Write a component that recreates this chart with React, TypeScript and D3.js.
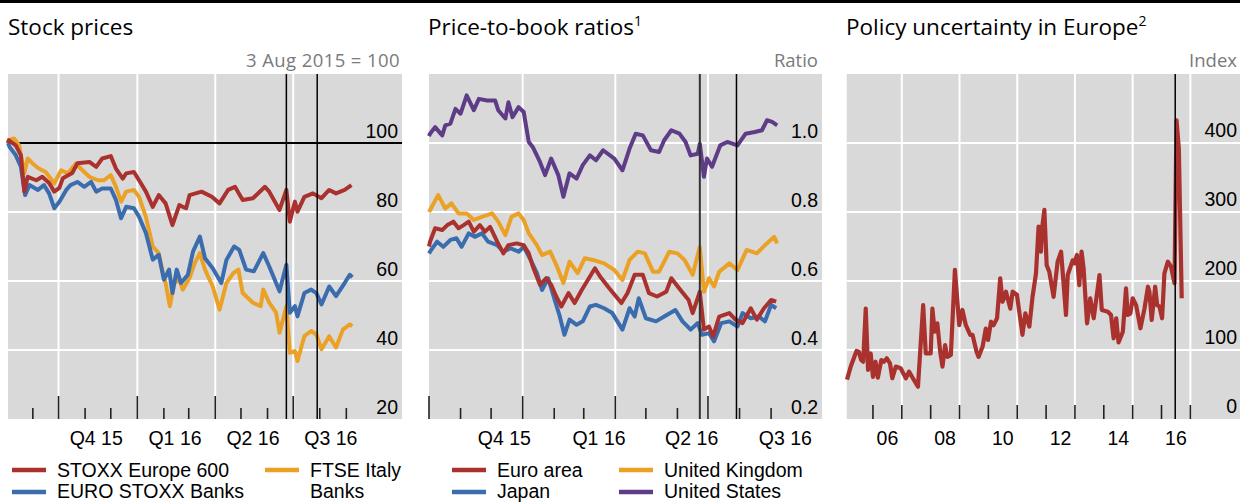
import React from 'react';
import * as d3 from 'd3';

// ---------------- DATA ----------------
// Panel 1: stock prices, [days since 3 Aug 2015, index 3 Aug 2015 = 100]
const stockBaseDate = '2015-08-03';
const stoxxEurope600: [number, number][] = [[0,100],[1,100.8],[9,99.3],[15,96.5],[19,85.9],[23,90.2],[33,89.2],[40,90.2],[48,88.4],[54,85.9],[60,87],[64,89.8],[75,91.3],[81,94.1],[95,94.5],[103,93.1],[110,95.5],[120,96.2],[126,92.6],[134,89.7],[138,91.2],[147,91.6],[153,89.2],[161,85.9],[169,81.5],[176,84.9],[184,82.5],[192,76.2],[200,82],[204,81.5],[208,81.1],[212,84.9],[226,85.9],[238,84.4],[247,82.5],[257,86.4],[265,87.3],[274,83.5],[286,84],[300,87.3],[305,85.9],[317,80.6],[325,86.4],[329,77.2],[335,83],[338,80.1],[346,84.4],[356,85.4],[366,84],[375,86.4],[383,85.4],[393,86.4],[401,87.8]];
const euroStoxxBanks: [number, number][] = [[0,100],[2,98.8],[9,96.5],[15,93.1],[20,84.9],[25,87.8],[35,86.4],[42,87.8],[48,85.4],[54,81.1],[60,83],[68,86.4],[73,87.8],[81,88.7],[89,87.3],[97,88.7],[103,85.9],[110,86.8],[120,86.8],[126,83.5],[132,78.2],[138,81.5],[147,81.1],[153,78.6],[161,73.9],[169,66.2],[176,67.6],[182,60.4],[188,63.3],[192,56.5],[197,63.3],[202,59.4],[210,61.8],[216,68.5],[224,72.9],[230,66.6],[239,63.7],[249,59.4],[255,66.1],[264,70],[270,69],[278,63.3],[287,62.8],[298,68.1],[305,64.2],[317,57],[325,64.7],[329,50.8],[335,52.7],[338,49.8],[346,56.5],[354,57.5],[360,56.5],[366,53.2],[375,58.4],[383,55.6],[393,59.4],[399,61.8],[402,61.1]];
const ftseItalyBanks: [number, number][] = [[0,100],[1,100.8],[7,101.3],[13,99.3],[19,91.2],[23,95.5],[29,94],[36,92.6],[44,91.6],[54,88.3],[62,92.1],[70,91.2],[79,94],[87,92.1],[95,90.2],[105,89.2],[112,89.2],[120,90.7],[126,87.3],[132,83],[138,85.9],[147,86.4],[153,84.4],[161,78.6],[169,70],[176,68.1],[180,63.3],[184,59.4],[189,52.7],[194,59.4],[200,60.4],[204,57.5],[212,60.9],[218,65.2],[224,68.1],[230,63.3],[239,58.4],[247,51.7],[255,59.4],[263,62.3],[269,63.3],[274,56.5],[286,53.7],[295,52.7],[298,57.5],[305,53.7],[313,50.8],[317,45],[325,52.7],[329,39.2],[335,39.7],[338,36.8],[346,44],[354,45.5],[360,44.5],[366,40.2],[375,44],[383,40.7],[391,45.9],[399,47.4],[402,46.9]];

// Panel 2: price-to-book ratios, [days since 1 Oct 2015, ratio]
const pbBaseDate = '2015-10-01';
const pbEuroArea: [number, number][] = [[0,0.7],[1,0.714],[6,0.753],[13,0.748],[18,0.762],[24,0.772],[29,0.753],[34,0.762],[39,0.772],[44,0.743],[50,0.762],[55,0.743],[60,0.757],[67,0.714],[73,0.68],[78,0.704],[86,0.709],[93,0.704],[98,0.68],[102,0.642],[109,0.589],[115,0.608],[120,0.589],[125,0.555],[130,0.526],[137,0.565],[143,0.536],[150,0.574],[156,0.603],[163,0.637],[168,0.613],[173,0.594],[177,0.579],[189,0.536],[195,0.565],[202,0.618],[210,0.618],[216,0.565],[224,0.555],[233,0.569],[238,0.608],[247,0.574],[255,0.545],[259,0.507],[266,0.569],[270,0.459],[275,0.468],[279,0.439],[285,0.497],[295,0.507],[301,0.488],[308,0.478],[316,0.521],[322,0.488],[329,0.521],[336,0.545],[341,0.54]];
const pbJapan: [number, number][] = [[0,0.68],[1,0.685],[8,0.714],[14,0.699],[21,0.719],[27,0.724],[32,0.699],[39,0.738],[45,0.728],[52,0.738],[58,0.714],[67,0.704],[73,0.685],[80,0.695],[88,0.685],[93,0.699],[99,0.666],[106,0.623],[111,0.574],[117,0.608],[124,0.54],[128,0.502],[133,0.444],[138,0.488],[145,0.473],[151,0.483],[158,0.526],[164,0.531],[172,0.521],[180,0.507],[190,0.459],[197,0.521],[202,0.497],[206,0.55],[213,0.492],[223,0.483],[231,0.497],[242,0.516],[249,0.483],[257,0.459],[264,0.478],[268,0.444],[275,0.449],[280,0.425],[287,0.478],[295,0.483],[303,0.468],[308,0.507],[316,0.492],[324,0.497],[330,0.483],[336,0.531],[341,0.521]];
const pbUnitedKingdom: [number, number][] = [[0,0.8],[1,0.805],[9,0.849],[16,0.81],[22,0.825],[29,0.796],[37,0.796],[44,0.777],[52,0.786],[62,0.796],[68,0.772],[75,0.733],[81,0.786],[88,0.796],[93,0.777],[98,0.738],[106,0.704],[111,0.675],[119,0.685],[125,0.647],[132,0.594],[138,0.656],[146,0.623],[153,0.666],[161,0.661],[172,0.651],[182,0.632],[190,0.603],[197,0.661],[205,0.685],[212,0.68],[220,0.627],[226,0.627],[236,0.685],[244,0.68],[251,0.661],[259,0.618],[266,0.699],[270,0.569],[275,0.608],[280,0.584],[285,0.627],[295,0.651],[303,0.632],[312,0.69],[322,0.68],[330,0.704],[339,0.728],[342,0.709]];
const pbUnitedStates: [number, number][] = [[0,1.02],[1,1.027],[6,1.046],[13,1.022],[16,1.051],[21,1.056],[26,1.099],[31,1.085],[37,1.138],[44,1.095],[49,1.128],[57,1.123],[65,1.123],[68,1.095],[75,1.071],[78,1.118],[82,1.075],[88,1.104],[93,1.09],[98,1.003],[102,0.988],[109,0.945],[114,0.907],[120,0.955],[127,0.907],[132,0.844],[138,0.912],[145,0.897],[151,0.936],[158,0.964],[164,0.95],[171,0.979],[182,0.955],[190,0.921],[197,0.984],[203,1.027],[210,1.022],[218,0.979],[226,0.974],[231,1.008],[238,1.037],[246,1.027],[252,1.003],[257,0.964],[264,0.969],[266,0.998],[270,0.902],[273,0.955],[278,0.931],[286,0.993],[293,1.003],[303,0.993],[311,1.027],[320,1.032],[327,1.037],[332,1.066],[337,1.061],[342,1.051]];

// Panel 3: policy uncertainty in Europe, [year, index]
const policyUncertainty: [number, number][] = [[2005.1,57],[2005.23,76],[2005.43,98.6],[2005.51,97.6],[2005.59,85.5],[2005.66,83],[2005.75,160],[2005.83,71],[2005.92,95],[2006.0,61],[2006.09,83],[2006.17,60],[2006.29,85.5],[2006.38,83],[2006.48,88],[2006.59,80.7],[2006.67,59],[2006.79,76],[2006.96,73.5],[2007.14,59],[2007.25,68.6],[2007.42,56.5],[2007.56,46.8],[2007.74,165],[2007.83,95],[2008.0,95],[2008.06,160],[2008.14,126.5],[2008.23,138.7],[2008.33,97.6],[2008.41,76],[2008.5,107],[2008.58,90],[2008.7,93],[2008.84,216],[2008.99,136],[2009.1,158],[2009.22,136],[2009.37,122],[2009.45,122],[2009.59,97.6],[2009.66,90],[2009.8,105],[2009.91,131],[2009.99,114.5],[2010.09,141],[2010.18,136],[2010.3,146],[2010.41,204],[2010.49,170],[2010.61,184.5],[2010.76,160],[2010.84,184.5],[2010.99,180],[2011.18,122],[2011.28,153],[2011.42,134],[2011.53,177],[2011.65,211],[2011.74,279],[2011.82,242.5],[2011.86,276],[2011.94,303],[2012.02,223],[2012.11,213.5],[2012.26,177],[2012.4,228],[2012.52,242.5],[2012.69,150.7],[2012.75,208.7],[2012.92,230],[2012.98,225.6],[2013.07,237.7],[2013.15,194],[2013.23,242.5],[2013.3,218.4],[2013.42,138.7],[2013.53,175],[2013.65,146],[2013.85,208.7],[2013.93,158],[2014.14,155.5],[2014.25,150.7],[2014.34,117],[2014.43,146],[2014.51,111],[2014.66,126.5],[2014.77,189.4],[2014.83,150.7],[2014.92,153],[2015.0,175],[2015.12,165],[2015.27,131.5],[2015.41,160],[2015.53,191.7],[2015.58,184.5],[2015.66,143.5],[2015.78,191.7],[2015.85,165],[2015.93,163],[2016.02,146],[2016.1,211],[2016.22,228],[2016.33,220.7],[2016.45,196.7],[2016.52,433],[2016.6,392],[2016.7,175]];

// Axis / label data
const quarterLabels = ['Q4 15', 'Q1 16', 'Q2 16', 'Q3 16'];
const stockLabelDates = ['2015-11-14', '2016-02-14', '2016-05-15', '2016-08-14'];
const pbLabelDates = ['2015-12-14', '2016-03-16', '2016-06-15', '2016-09-15'];
const quarterStarts = ['2015-10-01', '2016-01-01', '2016-04-01', '2016-07-01'];
const eventDates = ['2016-06-23', '2016-07-29'];
const stockTicks = [100, 80, 60, 40, 20];
const pbTicks = [1.0, 0.8, 0.6, 0.4, 0.2];
const puTicks = [400, 300, 200, 100, 0];
const puYearTicks = [2006, 2007, 2008, 2009, 2010, 2011, 2012, 2013, 2014, 2015, 2016, 2017];
const puYearLabels = [2006, 2008, 2010, 2012, 2014, 2016];
const puGridYears = [2007, 2009, 2011, 2013, 2015, 2017];
const puEventYear = 2016.475;

// ---------------- STYLE ----------------
const RED = '#a9322e';
const BLUE = '#3a6cae';
const ORANGE = '#eba126';
const PURPLE = '#5e3c87';
const BG = '#d9d9d9';
const TICK_FONT = "'Liberation Sans', Arial, sans-serif";
const TITLE_FONT = "'Open Sans', 'Noto Sans', sans-serif";
const TOP = 74;
const BOTTOM = 419;
const LW = 4;

const parseDate = d3.timeParse('%Y-%m-%d');
const P = (s: string) => parseDate(s) as Date;

export default function App() {
  // ---- Panel 1 scales
  const s0 = P(stockBaseDate);
  const x1 = d3.scaleTime().domain([s0, P('2016-11-05')]).range([8, 402]);
  const y1 = d3.scaleLinear().domain([20, 120]).range([BOTTOM, TOP]);
  const line1 = d3
    .line<[number, number]>()
    .x((d) => x1(d3.timeDay.offset(s0, d[0])))
    .y((d) => y1(d[1]));
  const months1 = d3.timeMonth.range(P('2015-09-01'), P('2016-09-02'));

  // ---- Panel 2 scales
  const p0 = P(pbBaseDate);
  const x2 = d3.scaleTime().domain([p0, P('2016-10-21')]).range([429, 822]);
  const y2 = d3.scaleLinear().domain([0.2, 1.2]).range([BOTTOM, TOP]);
  const line2 = d3
    .line<[number, number]>()
    .x((d) => x2(d3.timeDay.offset(p0, d[0])))
    .y((d) => y2(d[1]));
  const months2 = d3.timeMonth.range(P('2015-10-01'), P('2016-09-02'));

  // ---- Panel 3 scales
  const x3 = d3.scaleLinear().domain([2005.09, 2018.72]).range([846.7, 1240]);
  const y3 = d3.scaleLinear().domain([0, 500]).range([BOTTOM, TOP]);
  const line3 = d3
    .line<[number, number]>()
    .x((d) => x3(d[0]))
    .y((d) => y3(d[1]));

  const tickLabel = (x: number, y: number, text: string, anchor: 'end' | 'middle' = 'end', key?: string) => (
    <text key={key ?? text + x + y} x={x} y={y} textAnchor={anchor} fontFamily={TICK_FONT} fontSize={19.5} fill="#000">
      {text}
    </text>
  );

  const legendItem = (x: number, y: number, color: string, lines: string[], key: string, dy = 7, w = 34) => (
    <g key={key}>
      <line x1={x} x2={x + w} y1={y} y2={y} stroke={color} strokeWidth={4.5} />
      {lines.map((t, i) => (
        <text key={t} x={x + w + 11} y={y + dy + i * 21} fontFamily={TICK_FONT} fontSize={19.5} fill="#000">
          {t}
        </text>
      ))}
    </g>
  );

  const fmtPb = d3.format('.1f');
  const ROW1 = 470;
  const ROW2 = 492;

  return (
    <svg width={1240} height={503} style={{ position: 'absolute', left: 0, top: 0, background: '#fff' }}>
      <rect x={0} y={0} width={1240} height={3} fill="#000" />

      {/* ---------- Titles ---------- */}
      <text x={8} y={35} fontFamily={TITLE_FONT} fontSize={22.5} fill="#000">Stock prices</text>
      <text x={428} y={35} fontFamily={TITLE_FONT} fontSize={22.5} fill="#000">
        Price-to-book ratios<tspan fontSize={14} dy={-9}>1</tspan>
      </text>
      <text x={846} y={35} fontFamily={TITLE_FONT} fontSize={22.5} fill="#000">
        Policy uncertainty in Europe<tspan fontSize={14} dy={-9}>2</tspan>
      </text>
      <text x={400} y={67} textAnchor="end" fontFamily={TITLE_FONT} fontSize={18.5} fill="#7a7a7a" letterSpacing={0.4}>3 Aug 2015 = 100</text>
      <text x={818} y={67} textAnchor="end" fontFamily={TITLE_FONT} fontSize={18.5} fill="#7a7a7a">Ratio</text>
      <text x={1237} y={67} textAnchor="end" fontFamily={TITLE_FONT} fontSize={18.5} fill="#7a7a7a">Index</text>

      {/* ---------- Panel 1 ---------- */}
      <g>
        <rect x={8} y={TOP} width={394} height={BOTTOM - TOP} fill={BG} />
        {[80, 60, 40].map((v) => (
          <line key={v} x1={8} x2={402} y1={y1(v)} y2={y1(v)} stroke="#fff" strokeWidth={2} />
        ))}
        {quarterStarts.map((d) => (
          <line key={d} x1={x1(P(d))} x2={x1(P(d))} y1={TOP} y2={BOTTOM} stroke="#fff" strokeWidth={2} />
        ))}
        <line x1={8} x2={402} y1={y1(100)} y2={y1(100)} stroke="#000" strokeWidth={1.8} />
        <path d={line1(ftseItalyBanks) || ''} fill="none" stroke={ORANGE} strokeWidth={LW} strokeLinejoin="round" />
        <path d={line1(euroStoxxBanks) || ''} fill="none" stroke={BLUE} strokeWidth={LW} strokeLinejoin="round" />
        <path d={line1(stoxxEurope600) || ''} fill="none" stroke={RED} strokeWidth={LW} strokeLinejoin="round" />
        {eventDates.map((d) => (
          <line key={d} x1={x1(P(d))} x2={x1(P(d))} y1={TOP} y2={BOTTOM} stroke="#000" strokeWidth={1.5} />
        ))}
        {months1.map((m) => {
          const long = m.getMonth() % 3 === 0;
          return (
            <line key={+m} x1={x1(m)} x2={x1(m)} y1={BOTTOM} y2={BOTTOM - (long ? 23 : 11)} stroke="#222" strokeWidth={1.6} />
          );
        })}
        {stockTicks.map((v) => tickLabel(398, y1(v) - 5, String(v)))}
        {quarterLabels.map((q, i) => tickLabel(x1(P(stockLabelDates[i])), 445, q, 'middle', 'q1' + q))}
      </g>

      {/* ---------- Panel 2 ---------- */}
      <g>
        <rect x={429} y={TOP} width={393} height={BOTTOM - TOP} fill={BG} />
        {[1.0, 0.8, 0.6, 0.4].map((v) => (
          <line key={v} x1={429} x2={822} y1={y2(v)} y2={y2(v)} stroke="#fff" strokeWidth={2} />
        ))}
        {quarterStarts.slice(1).map((d) => (
          <line key={d} x1={x2(P(d))} x2={x2(P(d))} y1={TOP} y2={BOTTOM} stroke="#fff" strokeWidth={2} />
        ))}
        <path d={line2(pbUnitedStates) || ''} fill="none" stroke={PURPLE} strokeWidth={LW} strokeLinejoin="round" />
        <path d={line2(pbUnitedKingdom) || ''} fill="none" stroke={ORANGE} strokeWidth={LW} strokeLinejoin="round" />
        <path d={line2(pbJapan) || ''} fill="none" stroke={BLUE} strokeWidth={LW} strokeLinejoin="round" />
        <path d={line2(pbEuroArea) || ''} fill="none" stroke={RED} strokeWidth={LW} strokeLinejoin="round" />
        {eventDates.map((d, i) => (
          <line key={d} x1={x2(P(d))} x2={x2(P(d))} y1={TOP} y2={BOTTOM} stroke={i === 0 ? '#333' : '#000'} strokeWidth={i === 0 ? 2 : 1.5} />
        ))}
        {months2.map((m) => {
          const long = m.getMonth() % 3 === 0;
          return (
            <line key={+m} x1={x2(m)} x2={x2(m)} y1={BOTTOM} y2={BOTTOM - (long ? 23 : 11)} stroke="#222" strokeWidth={1.6} />
          );
        })}
        {pbTicks.map((v) => tickLabel(818, y2(v) - 5, fmtPb(v)))}
        {quarterLabels.map((q, i) => tickLabel(x2(P(pbLabelDates[i])), 445, q, 'middle', 'q2' + q))}
      </g>

      {/* ---------- Panel 3 ---------- */}
      <g>
        <rect x={846.7} y={TOP} width={1240 - 846.7} height={BOTTOM - TOP} fill={BG} />
        {[400, 300, 200, 100].map((v) => (
          <line key={v} x1={846.7} x2={1240} y1={y3(v)} y2={y3(v)} stroke="#fff" strokeWidth={2} />
        ))}
        {puGridYears.map((yr) => (
          <line key={yr} x1={x3(yr)} x2={x3(yr)} y1={TOP} y2={BOTTOM} stroke="#fff" strokeWidth={2} />
        ))}
        <path d={line3(policyUncertainty) || ''} fill="none" stroke={RED} strokeWidth={4.2} strokeLinejoin="round" />
        <line x1={x3(puEventYear)} x2={x3(puEventYear)} y1={TOP} y2={BOTTOM} stroke="#000" strokeWidth={1.5} />
        {puYearTicks.map((yr) => (
          <line key={yr} x1={x3(yr)} x2={x3(yr)} y1={BOTTOM} y2={BOTTOM - 14} stroke="#222" strokeWidth={1.6} />
        ))}
        {puTicks.map((v) => tickLabel(1237, y3(v) - 6, String(v)))}
        {puYearLabels.map((yr) => tickLabel(x3(yr + 0.5), 445, String(yr).slice(2), 'middle', 'yr' + yr))}
      </g>

      {/* ---------- Legends ---------- */}
      {legendItem(12, ROW1, RED, ['STOXX Europe 600'], 'l1')}
      {legendItem(12, ROW2, BLUE, ['EURO STOXX Banks'], 'l2', 6)}
      {legendItem(265, ROW1, ORANGE, ['FTSE Italy', 'Banks'], 'l3')}
      {legendItem(452, ROW1, RED, ['Euro area'], 'l4')}
      {legendItem(452, ROW2, BLUE, ['Japan'], 'l5', 6)}
      {legendItem(619, ROW1, ORANGE, ['United Kingdom'], 'l6')}
      {legendItem(619, ROW2, PURPLE, ['United States'], 'l7', 6)}
    </svg>
  );
}
